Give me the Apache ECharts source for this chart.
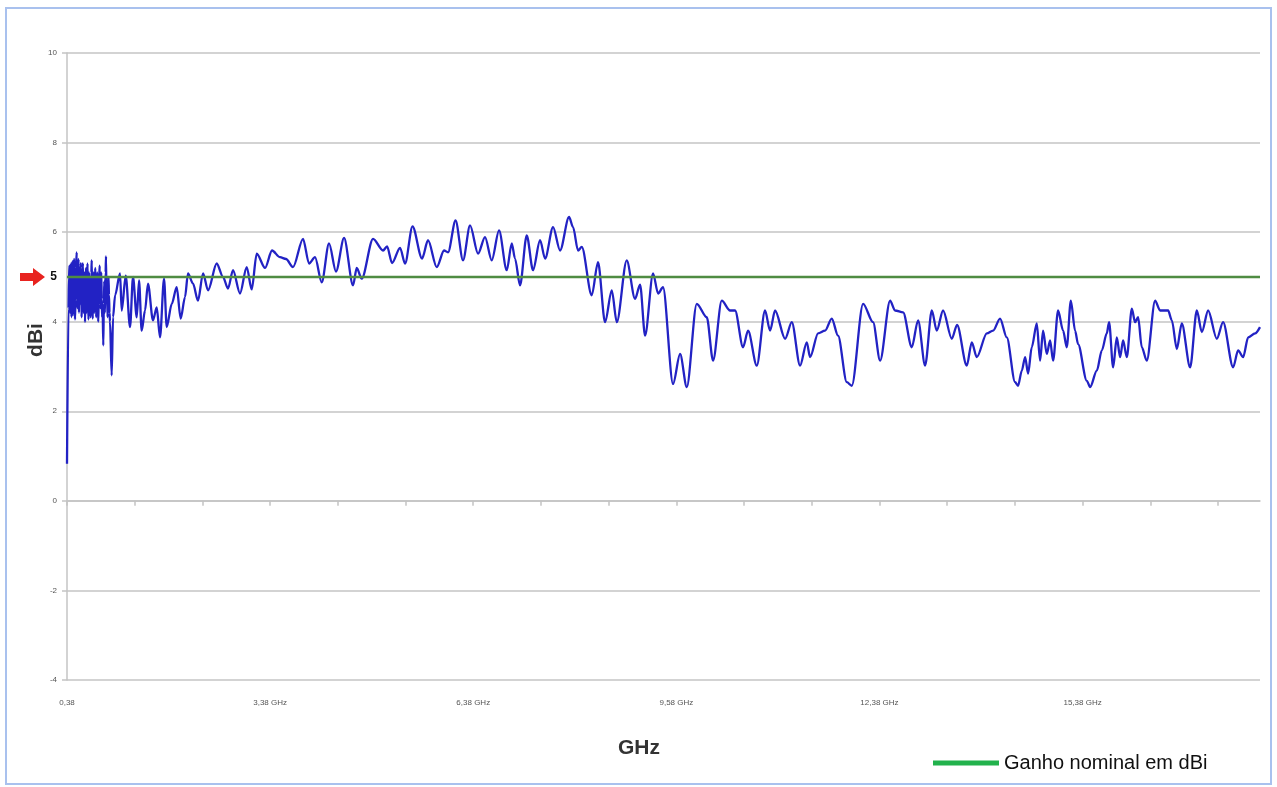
<!DOCTYPE html>
<html>
<head>
<meta charset="utf-8">
<script src="https://cdn.jsdelivr.net/npm/echarts@6/dist/echarts.min.js"></script>
<style>
  html, body { margin: 0; padding: 0; background: #ffffff; }
  #chart { width: 1277px; height: 787px; }
</style>
</head>
<body>
<div id="chart"></div>
<script>
// Measured antenna gain, [frequency in GHz, gain in dBi], split by band
const segLow = [
  [0.380,0.83],[0.402,4.30],[0.410,5.00],[0.417,5.25],[0.425,4.20],[0.432,4.60],[0.440,5.30],[0.446,4.10],
  [0.454,4.90],[0.461,5.35],[0.469,4.15],[0.476,4.60],[0.484,5.40],[0.491,5.10],[0.498,4.05],[0.506,4.50],
  [0.514,5.20],[0.523,5.55],[0.532,4.30],[0.542,4.80],[0.550,5.40],[0.557,4.20],[0.565,5.10],[0.572,4.40],
  [0.580,5.30],[0.587,5.25],[0.595,4.10],[0.602,4.40],[0.609,5.20],[0.616,5.30],[0.624,4.20],[0.631,4.70],
  [0.639,5.10],[0.646,3.99],[0.654,4.60],[0.661,5.20],[0.668,4.20],[0.675,4.70],[0.683,5.30],[0.690,4.50],
  [0.698,4.05],[0.705,5.10],[0.713,4.40],[0.720,5.00],[0.727,4.10],[0.734,4.60],[0.740,5.10],[0.745,5.37],
  [0.752,4.50],[0.760,4.07],[0.768,4.70],[0.775,5.10],[0.782,4.20],[0.789,4.60],[0.797,5.20],[0.804,4.80],
  [0.811,4.10],[0.819,4.50],[0.827,5.10],[0.834,4.60],[0.841,4.00],[0.848,4.40],[0.856,5.00],[0.863,5.25],
  [0.871,4.30],[0.878,4.70],[0.886,5.10],[0.893,4.50],[0.899,4.10],[0.905,4.40],[0.916,3.47],[0.924,4.40],
  [0.931,4.90],[0.938,4.20],[0.944,4.60],[0.950,5.10],[0.956,5.46],[0.964,4.40],[0.971,4.70],[0.979,4.10],
  [0.986,4.50],[0.993,5.00],[1.000,4.60],[1.008,4.20],[1.015,4.00],[1.040,2.80],[1.060,4.10],[1.090,4.59]
];
const segRise = [
  [1.163,5.08],[1.188,4.25],[1.247,5.03],[1.311,3.88],[1.355,5.00],[1.410,4.10],[1.444,4.92],[1.483,3.80],
  [1.532,4.25],[1.576,4.85],[1.650,4.03],[1.705,4.32],[1.754,3.65],[1.813,4.96],[1.853,3.88],[1.927,4.40],
  [2.000,4.77],[2.059,4.07],[2.123,4.55],[2.167,5.08],[2.241,4.85],[2.315,4.47],[2.389,5.08],[2.463,4.70],
  [2.591,5.30],[2.684,5.00],[2.758,4.74],[2.832,5.15],[2.935,4.63],[3.034,5.22],[3.108,4.72],[3.182,5.52],
  [3.305,5.20],[3.408,5.59],[3.526,5.44],[3.615,5.40],[3.718,5.22],[3.866,5.85],[3.955,5.30],[4.043,5.44],
  [4.142,4.88],[4.250,5.75],[4.353,5.12],[4.472,5.87],[4.605,4.81],[4.659,5.20],[4.733,4.96],[4.900,5.85]
];
const segPlateau = [
  [5.048,5.59],[5.107,5.68],[5.181,5.31],[5.299,5.65],[5.373,5.30],[5.483,6.13],[5.624,5.41],[5.712,5.82],
  [5.841,5.22],[5.949,5.59],[6.008,5.55],[6.119,6.26],[6.229,5.37],[6.333,6.15],[6.451,5.52],[6.554,5.89],
  [6.653,5.37],[6.761,6.04],[6.875,5.15],[6.949,5.75],[6.997,5.41],[7.071,4.81],[7.170,5.93],[7.263,5.15],
  [7.367,5.82],[7.441,5.41],[7.559,6.11],[7.662,5.59],[7.795,6.34],[7.854,6.11],[7.928,5.59],[7.983,5.67]
];
const segDrop = [
  [8.130,4.59],[8.223,5.33],[8.327,3.99],[8.426,4.70],[8.500,3.99],[8.647,5.37],[8.770,4.51],[8.844,4.83],
  [8.918,3.69],[9.036,5.08],[9.110,4.63],[9.183,4.77],[9.331,2.61],[9.435,3.28],[9.534,2.54],[9.681,4.40],
  [9.829,4.10],[9.922,3.13],[10.050,4.47],[10.173,4.25],[10.247,4.25],[10.365,3.43],[10.439,3.80],[10.568,3.02],
  [10.690,4.25],[10.764,3.80],[10.838,4.25],[10.986,3.62],[11.085,3.99],[11.207,3.02],[11.306,3.54],[11.355,3.21],
  [11.473,3.74],[11.576,3.80],[11.675,4.07],[11.768,3.69],[11.897,2.65],[11.971,2.57]
];
const segHigh = [
  [12.138,4.40],[12.285,3.99],[12.389,3.13],[12.537,4.47],[12.610,4.25],[12.729,4.21],[12.857,3.43],[12.950,4.03],
  [13.054,3.02],[13.153,4.25],[13.226,3.80],[13.319,4.25],[13.448,3.62],[13.526,3.93],[13.669,3.02],[13.743,3.54],
  [13.817,3.21],[13.965,3.74],[14.058,3.80],[14.161,4.07],[14.260,3.65],[14.383,2.65],[14.427,2.57],[14.482,2.91],
  [14.531,3.21],[14.575,2.84],[14.629,3.43],[14.703,3.96],[14.752,3.13],[14.796,3.80],[14.851,3.28],[14.900,3.58],
  [14.944,3.13],[15.018,4.25],[15.092,3.80],[15.146,3.43],[15.206,4.47],[15.269,3.80],[15.313,3.50],[15.442,2.68],
  [15.491,2.54],[15.590,2.91],[15.664,3.36],[15.737,3.74],[15.771,3.99],[15.831,2.98],[15.885,3.65],[15.934,3.21],
  [15.978,3.58],[16.033,3.21],[16.107,4.29],[16.155,3.99],[16.200,4.10],[16.254,3.43],[16.328,3.13],[16.451,4.47],
  [16.525,4.25],[16.643,4.25],[16.698,4.03],[16.771,3.39],[16.845,3.96],[16.968,2.98],[17.067,4.25],[17.141,3.77],
  [17.234,4.25],[17.362,3.62],[17.455,3.99],[17.603,2.98],[17.677,3.36],[17.751,3.21],[17.825,3.65],[17.928,3.74],
  [18.000,3.88]
];

// Nominal (rated) gain of the antenna
const nominalGain = 5;

// Axis ticks and labels
const freqMin = 0.38;
const freqMax = 18;
const xTickValues = [0.38,1.38,2.38,3.38,4.38,5.38,6.38,7.38,8.38,9.38,10.38,11.38,12.38,13.38,14.38,15.38,16.38,17.38];
const xLabelValues = [0.38,3.38,6.38,9.38,12.38,15.38];
const xLabelTexts = ['0,38','3,38 GHz','6,38 GHz','9,58 GHz','12,38 GHz','15,38 GHz'];
const yTickValues = [-4,-2,0,2,4,6,8,10];
const yLabelValues = [-4,-2,0,2,4,5,6,8,10];

const trace = [].concat(segLow, segRise, segPlateau, segDrop, segHigh);

const FONT = '"Liberation Sans", Arial, sans-serif';
const gridColor = '#c4c4c4';

const chart = echarts.init(document.getElementById('chart'), null, { renderer: 'canvas' });

chart.setOption({
  animation: false,
  backgroundColor: '#ffffff',
  grid: { left: 67, right: 17, top: 53, bottom: 107 },
  legend: {
    data: [{ name: 'Ganho nominal em dBi', itemStyle: { color: '#22b24c' } }],
    left: 928,
    top: 748,
    icon: 'rect',
    itemWidth: 66,
    itemHeight: 5,
    textStyle: { fontFamily: FONT, fontSize: 20, color: '#111111' }
  },
  xAxis: [
    {
      type: 'value',
      min: freqMin,
      max: freqMax,
      position: 'bottom',
      axisLine: { show: false, onZero: false },
      axisTick: { show: false },
      splitLine: { show: false },
      axisLabel: {
        customValues: xLabelValues,
        formatter: function (v) {
          const i = xLabelValues.findIndex(function (x) { return Math.abs(x - v) < 1e-6; });
          return i >= 0 ? xLabelTexts[i] : '';
        },
        fontFamily: FONT,
        fontSize: 8,
        color: '#555555',
        margin: 19
      }
    },
    {
      type: 'value',
      min: freqMin,
      max: freqMax,
      position: 'top',
      axisLine: { show: true, onZero: true, lineStyle: { color: gridColor, width: 1.5 } },
      axisTick: { show: true, inside: true, length: 5, customValues: xTickValues, lineStyle: { color: gridColor, width: 1.5 } },
      axisLabel: { show: false },
      splitLine: { show: false }
    }
  ],
  yAxis: {
    type: 'value',
    min: -4,
    max: 10,
    interval: 2,
    axisLine: { show: true, lineStyle: { color: gridColor, width: 1.5 } },
    axisTick: { show: true, length: 5, customValues: yTickValues, lineStyle: { color: gridColor, width: 1.5 } },
    splitLine: { show: true, lineStyle: { color: gridColor, width: 1.5 } },
    axisLabel: {
      customValues: yLabelValues,
      formatter: function (v) { return v === nominalGain ? '{nom|' + v + '}' : String(v); },
      fontFamily: FONT,
      fontSize: 8,
      color: '#555555',
      margin: 10,
      rich: { nom: { fontFamily: FONT, fontSize: 12, fontWeight: 'bold', color: '#111111' } }
    }
  },
  series: [
    {
      name: 'Ganho medido',
      type: 'line',
      xAxisIndex: 0,
      data: trace,
      showSymbol: false,
      smooth: 0.3,
      smoothMonotone: 'x',
      lineStyle: { color: '#2222c4', width: 2.3 },
      itemStyle: { color: '#2222c4' },
      z: 3
    },
    {
      name: 'Ganho nominal em dBi',
      type: 'line',
      xAxisIndex: 0,
      data: [[freqMin, nominalGain], [freqMax, nominalGain]],
      showSymbol: false,
      lineStyle: { color: '#4f8c42', width: 2.5 },
      itemStyle: { color: '#4f8c42' },
      z: 4
    }
  ]
});

// Frame, axis titles and the marker arrow beside the nominal-gain label
const y5 = chart.convertToPixel({ yAxisIndex: 0 }, nominalGain);
chart.setOption({
  graphic: [
    {
      type: 'rect', silent: true, z: -1,
      shape: { x: 6, y: 8, width: 1265, height: 776 },
      style: { fill: 'none', stroke: '#a9c1ee', lineWidth: 2 }
    },
    {
      type: 'text', silent: true,
      x: 639, y: 748,
      style: { text: 'GHz', fontFamily: FONT, fontSize: 21, fontWeight: 'bold', fill: '#333333', align: 'center', verticalAlign: 'middle' }
    },
    {
      type: 'text', silent: true,
      x: 36, y: 340, rotation: Math.PI / 2,
      style: { text: 'dBi', fontFamily: FONT, fontSize: 21, fontWeight: 'bold', fill: '#333333', align: 'center', verticalAlign: 'middle' }
    },
    {
      type: 'polygon', silent: true,
      shape: { points: [[20, y5 - 4], [33, y5 - 4], [33, y5 - 9], [45, y5], [33, y5 + 9], [33, y5 + 4], [20, y5 + 4]] },
      style: { fill: '#e8231f' }
    }
  ]
});
</script>
</body>
</html>
